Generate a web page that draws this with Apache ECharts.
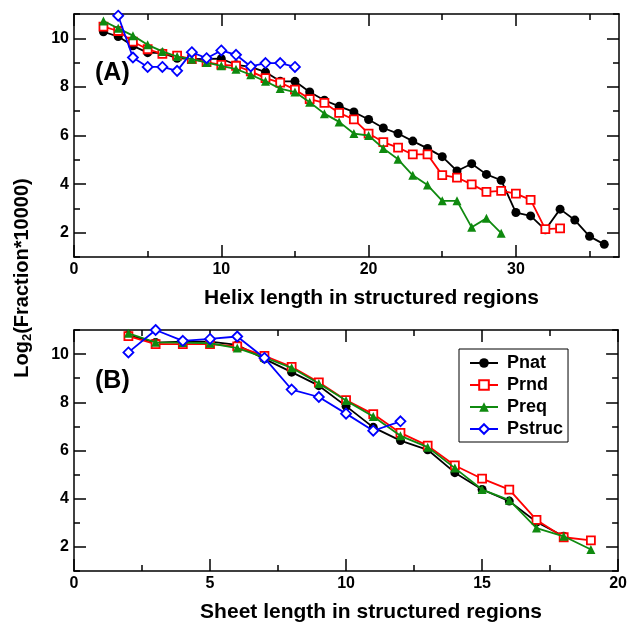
<!DOCTYPE html>
<html>
<head>
<meta charset="utf-8">
<script src="https://cdn.jsdelivr.net/npm/echarts@6/dist/echarts.min.js"></script>
<style>html,body{margin:0;padding:0;background:#fff}#c{width:630px;height:624px}</style>
</head>
<body>
<div id="c"></div>
<script>
// ---- Data ----
const seriesNames = ['Pnat', 'Prnd', 'Preq', 'Pstruc'];

// Panel A: helix length
const helixPnatX = [2,3,4,5,6,7,8,9,10,11,12,13,14,15,16,17,18,19,20,21,22,23,24,25,26,27,28,29,30,31,32,33,34,35,36];
const helixPnatY = [10.27,10.07,9.69,9.41,9.39,9.18,9.14,9.15,9.16,8.91,8.82,8.61,8.23,8.23,7.79,7.45,7.20,6.97,6.66,6.31,6.08,5.77,5.47,5.13,4.54,4.84,4.40,4.16,2.83,2.69,2.12,2.97,2.52,1.85,1.52];
const helixPrndX = [2,3,4,5,6,7,8,9,10,11,12,13,14,15,16,17,18,19,20,21,22,23,24,25,26,27,28,29,30,31,32,33];
const helixPrndY = [10.48,10.30,9.86,9.55,9.36,9.29,9.14,9.02,8.91,8.87,8.64,8.36,8.18,7.89,7.50,7.34,6.93,6.66,6.08,5.73,5.50,5.22,5.22,4.37,4.27,3.99,3.68,3.72,3.61,3.35,2.15,2.18];
const helixPreqX = [2,3,4,5,6,7,8,9,10,11,12,13,14,15,16,17,18,19,20,21,22,23,24,25,26,27,28,29];
const helixPreqY = [10.71,10.41,10.11,9.73,9.46,9.25,9.14,9.00,8.87,8.73,8.50,8.23,7.93,7.79,7.37,6.90,6.56,6.08,6.00,5.47,5.02,4.36,3.96,3.31,3.31,2.22,2.59,1.98];
const helixPstrucX = [3,4,5,6,7,8,9,10,11,12,13,14,15];
const helixPstrucY = [10.93,9.21,8.82,8.82,8.66,9.43,9.18,9.50,9.32,8.84,8.98,8.98,8.82];

// Panel B: sheet length
const sheetPnatX = [2,3,4,5,6,7,8,9,10,11,12,13,14,15,16,17,18];
const sheetPnatY = [10.79,10.48,10.52,10.52,10.38,9.80,9.25,8.69,7.84,6.96,6.41,6.03,5.08,4.38,3.90,3.03,2.44];
const sheetPrndX = [2,3,4,5,6,7,8,9,10,11,12,13,14,15,16,17,18,19];
const sheetPrndY = [10.75,10.41,10.41,10.41,10.32,9.93,9.47,8.83,8.09,7.51,6.73,6.20,5.38,4.83,4.38,3.12,2.40,2.27];
const sheetPreqX = [2,3,4,5,6,7,8,9,10,11,12,13,14,15,16,17,18,19];
const sheetPreqY = [10.86,10.49,10.48,10.45,10.25,9.86,9.43,8.78,8.07,7.41,6.61,6.14,5.27,4.38,3.94,2.78,2.44,1.89];
const sheetPstrucX = [2,3,4,5,6,7,8,9,10,11,12];
const sheetPstrucY = [10.07,11.0,10.55,10.63,10.73,9.84,8.53,8.22,7.53,6.82,7.21];

// Tick values
const helixMajorTicks = [0,10,20,30];
const helixMinorTicks = [5,15,25,35];
const sheetMajorTicks = [0,5,10,15,20];
const sheetMinorTicks = [2.5,7.5,12.5,17.5];
const yMajorTicks = [2,4,6,8,10];
const yMinorTicks = [1,3,5,7,9,11];

const helixRange = [0, 37];
const sheetRange = [0, 20];
const yRange = [1, 11];

// ---- Styles ----
const FONT = 'Liberation Sans, Arial, sans-serif';
const colors = ['#000000', '#ff0000', '#0f8a0f', '#0000ff'];
const symbols = ['circle', 'rect', 'triangle', 'diamond'];
const symbolSizes = [9, 8, 9, 10];

const pairs = (xs, ys) => xs.map((x, i) => [x, ys[i]]);

function makeSeries(name, idx, data, axisIdx) {
  const hollow = idx === 1 || idx === 3;
  return {
    name: name,
    type: 'line',
    xAxisIndex: axisIdx,
    yAxisIndex: axisIdx,
    data: data,
    symbol: symbols[idx],
    symbolSize: symbolSizes[idx],
    showSymbol: true,
    clip: false,
    animation: false,
    lineStyle: { color: colors[idx], width: 1.8 },
    itemStyle: hollow ? { color: '#ffffff', borderColor: colors[idx], borderWidth: 1.8 }
                      : { color: colors[idx], borderColor: colors[idx], borderWidth: 0 },
    z: 2 + idx
  };
}

const lineStyle = { color: '#000', width: 1.5 };
const labelStyle = { color: '#000', fontFamily: FONT, fontWeight: 'bold', fontSize: 16, margin: 5 };

function xAxes(gridIndex, range, major, minor, name) {
  const base = { type: 'value', gridIndex: gridIndex, min: range[0], max: range[1], splitLine: { show: false } };
  return [
    Object.assign({}, base, {
      position: 'bottom',
      axisLine: { show: true, onZero: false, lineStyle: lineStyle },
      axisTick: { show: true, inside: true, length: 12, lineStyle: lineStyle, customValues: major },
      axisLabel: Object.assign({ show: true, customValues: major }, labelStyle),
      name: name, nameLocation: 'middle', nameGap: 31,
      nameTextStyle: { color: '#000', fontFamily: FONT, fontWeight: 'bold', fontSize: 21, padding: [0, 0, 0, 50] }
    }),
    Object.assign({}, base, {
      position: 'bottom',
      axisLine: { show: false, onZero: false },
      axisTick: { show: true, inside: true, length: 6, lineStyle: lineStyle, customValues: minor },
      axisLabel: { show: false }
    }),
    Object.assign({}, base, {
      position: 'top',
      axisLine: { show: true, onZero: false, lineStyle: lineStyle },
      axisTick: { show: true, inside: true, length: 12, lineStyle: lineStyle, customValues: major },
      axisLabel: { show: false }
    }),
    Object.assign({}, base, {
      position: 'top',
      axisLine: { show: false, onZero: false },
      axisTick: { show: true, inside: true, length: 6, lineStyle: lineStyle, customValues: minor },
      axisLabel: { show: false }
    })
  ];
}

function yAxes(gridIndex) {
  const base = { type: 'value', gridIndex: gridIndex, min: yRange[0], max: yRange[1], splitLine: { show: false } };
  return [
    Object.assign({}, base, {
      position: 'left',
      axisLine: { show: true, onZero: false, lineStyle: lineStyle },
      axisTick: { show: true, inside: true, length: 12, lineStyle: lineStyle, customValues: yMajorTicks },
      axisLabel: Object.assign({ show: true, customValues: yMajorTicks }, labelStyle)
    }),
    Object.assign({}, base, {
      position: 'left',
      axisLine: { show: false, onZero: false },
      axisTick: { show: true, inside: true, length: 6, lineStyle: lineStyle, customValues: yMinorTicks },
      axisLabel: { show: false }
    }),
    Object.assign({}, base, {
      position: 'right',
      axisLine: { show: true, onZero: false, lineStyle: lineStyle },
      axisTick: { show: true, inside: true, length: 12, lineStyle: lineStyle, customValues: yMajorTicks },
      axisLabel: { show: false }
    }),
    Object.assign({}, base, {
      position: 'right',
      axisLine: { show: false, onZero: false },
      axisTick: { show: true, inside: true, length: 6, lineStyle: lineStyle, customValues: yMinorTicks },
      axisLabel: { show: false }
    })
  ];
}

const helixData = [pairs(helixPnatX, helixPnatY), pairs(helixPrndX, helixPrndY), pairs(helixPreqX, helixPreqY), pairs(helixPstrucX, helixPstrucY)];
const sheetData = [pairs(sheetPnatX, sheetPnatY), pairs(sheetPrndX, sheetPrndY), pairs(sheetPreqX, sheetPreqY), pairs(sheetPstrucX, sheetPstrucY)];

const series = [];
seriesNames.forEach((n, i) => series.push(makeSeries(n, i, helixData[i], 0)));
seriesNames.forEach((n, i) => series.push(makeSeries(n, i, sheetData[i], 4)));

const chart = echarts.init(document.getElementById('c'), null, { renderer: 'canvas' });
chart.setOption({
  backgroundColor: '#ffffff',
  animation: false,
  grid: [
    { left: 74, top: 14, width: 545, height: 243 },
    { left: 74, top: 330, width: 545, height: 244 }
  ],
  xAxis: xAxes(0, helixRange, helixMajorTicks, helixMinorTicks, 'Helix length in structured regions')
    .concat(xAxes(1, sheetRange, sheetMajorTicks, sheetMinorTicks, 'Sheet length in structured regions')),
  yAxis: yAxes(0).concat(yAxes(1)),
  legend: {
    data: seriesNames,
    orient: 'vertical',
    left: 459, top: 349,
    padding: [5, 5, 4, 10],
    itemWidth: 28, itemHeight: 12, itemGap: 4,
    borderColor: '#000', borderWidth: 1, backgroundColor: '#fff',
    textStyle: { color: '#000', fontFamily: FONT, fontWeight: 'bold', fontSize: 18, lineHeight: 16, padding: [0, 0, 0, 4] }
  },
  graphic: [
    { type: 'text', left: 95, top: 61, z: 10, style: { text: '(A)', fill: '#000', font: 'bold 25px ' + FONT } },
    { type: 'text', left: 95, top: 369, z: 10, style: { text: '(B)', fill: '#000', font: 'bold 25px ' + FONT } },
    {
      type: 'text', x: 22, y: 278, rotation: Math.PI / 2, z: 10,
      style: {
        text: '{m|Log}{s|2}{m|(Fraction*10000)}',
        align: 'center', verticalAlign: 'middle',
        rich: {
          m: { fill: '#000', fontFamily: FONT, fontWeight: 'bold', fontSize: 20, lineHeight: 24, verticalAlign: 'middle' },
          s: { fill: '#000', fontFamily: FONT, fontWeight: 'bold', fontSize: 13, lineHeight: 24, padding: [10, 0, 0, 0], verticalAlign: 'middle' }
        }
      }
    }
  ],
  series: series
});
</script>
</body>
</html>
